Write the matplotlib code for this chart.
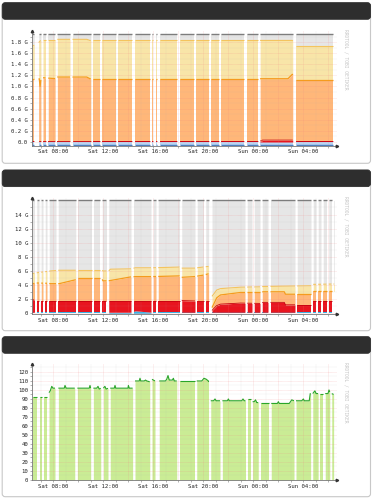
import numpy as np
import matplotlib
matplotlib.use("Agg")
import matplotlib.pyplot as plt
from matplotlib.patches import FancyBboxPatch

W, H = 375, 500
T0, T1 = 6.32, 30.72          # visible time window, hours since Sat 00:00

X_MAJOR = [8, 10, 12, 14, 16, 18, 20, 22, 24, 26, 28, 30]
X_LABELS = ["Sat 08:00", "", "Sat 12:00", "", "Sat 16:00", "", "Sat 20:00", "",
            "Sun 00:00", "", "Sun 04:00", ""]

# ---------------- Panel 1 (stacked, ~2 G) ----------------
P1_TIME   = [6.32, 6.90, 6.97, 7.05, 8.30, 8.36, 10.70, 10.95, 24.70, 24.75, 26.80, 27.15, 27.42, 30.38]
P1_NEG    = [-0.062] * 14
P1_RED    = [0.02, 0.02, 0.02, 0.02, 0.02, 0.02, 0.02, 0.02, 0.02, 0.035, 0.035, 0.035, 0.02, 0.02]
P1_ORANGE = [1.14, 1.14, 1.00, 1.16, 1.14, 1.17, 1.17, 1.14, 1.14, 1.14, 1.14, 1.22, 1.12, 1.12]
P1_YELLOW = [1.72, 1.80, 1.82, 1.83, 1.83, 1.85, 1.85, 1.83, 1.83, 1.83, 1.83, 1.83, 1.73, 1.73]
P1_GRAY   = [1.95] * 14
P1_GAPS = [(6.50, 6.85), (7.03, 7.20), (7.40, 7.62), (8.17, 8.35), (9.36, 9.56), (11.02, 11.22),
           (11.75, 11.95), (13.00, 13.20), (14.32, 14.52), (15.72, 15.90), (16.02, 16.20),
           (16.34, 16.52), (17.92, 18.12), (19.26, 19.46), (20.46, 20.66), (21.26, 21.46),
           (23.30, 23.50), (24.37, 24.57), (27.18, 27.44)]
Y1_TICKS = [0.0, 0.2, 0.4, 0.6, 0.8, 1.0, 1.2, 1.4, 1.6, 1.8]
Y1_LABELS = ["0.0", "0.2 G", "0.4 G", "0.6 G", "0.8 G", "1.0 G", "1.2 G", "1.4 G", "1.6 G", "1.8 G"]

# ---------------- Panel 2 (stacked, ~16 G) ----------------
P2_TIME   = [6.32, 6.55, 7.60, 7.80, 8.50, 9.80, 10.00, 11.90, 12.00, 12.45, 12.60, 14.20, 14.60,
             15.90, 18.10, 18.30, 19.30, 20.00, 20.45, 20.72, 21.10, 21.40, 23.00, 24.60, 24.80,
             26.50, 26.60, 28.65, 28.80, 30.50]
P2_BLUE   = [0.15, 0.15, 0.15, 0.15, 0.15, 0.15, 0.15, 0.15, 0.15, 0.15, 0.15, 0.15, 0.35,
             0.15, 0.15, 0.15, 0.15, 0.15, 0.15, 0.15, 0.15, 0.15, 0.15, 0.15, 0.15,
             0.15, 0.15, 0.15, 0.15, 0.15]
P2_RED    = [2.00, 1.80, 1.80, 1.80, 1.80, 1.80, 1.80, 1.80, 1.80, 1.80, 1.80, 1.80, 1.80,
             1.80, 1.80, 1.80, 1.75, 1.75, 1.75, 0.40, 1.10, 1.30, 1.45, 1.40, 1.55,
             1.55, 1.20, 1.20, 1.75, 1.75]
P2_ORANGE = [4.30, 4.30, 4.25, 4.20, 4.20, 4.75, 4.95, 4.95, 4.60, 4.60, 4.65, 5.15, 5.20,
             5.20, 5.30, 5.10, 5.20, 5.40, 5.60, 0.80, 2.20, 2.60, 2.95, 2.95, 3.05,
             3.05, 2.70, 2.70, 3.10, 3.10]
P2_YELLOW = [5.60, 5.70, 5.95, 6.00, 6.10, 6.10, 6.15, 6.15, 6.00, 6.00, 6.25, 6.30, 6.45,
             6.45, 6.55, 6.40, 6.40, 6.55, 6.65, 2.40, 3.30, 3.50, 3.70, 3.75, 3.80,
             3.85, 3.85, 3.90, 4.10, 4.15]
P2_GRAY   = [16.0] * 30
P2_GAPS = [(6.52, 6.70), (6.88, 7.06), (7.20, 7.38), (7.52, 7.70), (8.24, 8.42), (9.82, 10.02),
           (11.12, 11.30), (11.76, 11.94), (12.28, 12.46), (14.24, 14.44), (15.84, 16.02),
           (16.24, 16.42), (18.12, 18.30), (19.36, 19.54), (20.04, 20.22), (20.45, 20.72),
           (23.36, 23.54), (23.92, 24.10), (24.56, 24.74), (25.20, 25.40), (27.36, 27.54),
           (28.64, 28.82), (29.04, 29.22), (29.44, 29.62), (29.88, 30.06), (30.28, 30.44)]
Y2_TICKS = [0, 2, 4, 6, 8, 10, 12, 14]
Y2_LABELS = ["0", "2 G", "4 G", "6 G", "8 G", "10 G", "12 G", "14 G"]

# ---------------- Panel 3 (single line, ~100) ----------------
P3_TIME = [6.38, 7.50, 7.68, 7.78, 7.90, 8.00, 8.16, 8.43, 8.90, 8.96, 9.05, 9.76, 9.95, 10.90,
           10.96, 11.01, 11.23, 11.50, 11.60, 11.70, 11.84, 12.03, 12.15, 12.25, 12.43, 12.56,
           12.90, 12.96, 13.02, 14.00, 14.03, 14.10, 14.37, 14.56, 14.90, 14.96, 15.02, 15.30,
           15.40, 15.50, 15.76, 15.90, 16.16, 16.50, 17.00, 17.10, 17.20, 17.30, 17.55, 17.63,
           17.70, 17.90, 18.16, 19.36, 19.49, 19.90, 20.08, 20.25, 20.43, 20.61, 20.85, 20.96,
           21.05, 21.36, 21.55, 21.95, 22.03, 22.10, 23.10, 23.20, 23.30, 23.41, 23.57, 23.81,
           23.95, 24.10, 24.20, 24.30, 24.43, 24.59, 25.31, 25.44, 25.95, 26.03, 26.10, 26.90,
           27.10, 27.28, 27.44, 27.90, 28.03, 28.10, 28.50, 28.58, 28.61, 28.78, 28.95, 29.05,
           29.23, 29.36, 29.63, 29.76, 30.00, 30.08, 30.16, 30.29, 30.45]
P3_VALUE = [92, 92, 97, 99, 104, 102, 102, 102, 102, 105, 102, 102, 102, 102,
            105, 102, 102, 102, 104, 101, 102, 102, 104, 101, 102, 102,
            102, 105, 102, 102, 105, 102, 102, 110, 110, 113, 110, 110,
            111, 110, 109, 112, 110, 110, 110, 112, 116, 111, 111, 113,
            110, 110, 110, 110, 110, 110, 113, 112, 110, 88, 88, 90,
            88, 88, 88, 88, 90, 88, 88, 90, 88, 88, 90, 90,
            87, 87, 89, 86, 86, 85, 85, 85, 85, 87, 85, 85,
            89, 88, 88, 88, 90, 88, 88, 96, 96, 96, 99, 96,
            96, 96, 96, 96, 96, 100, 97, 96, 95]
P3_GAPS = [(6.72, 6.92), (7.14, 7.30), (7.50, 7.68), (8.16, 8.43), (9.74, 9.95), (11.01, 11.23),
           (11.82, 12.03), (12.40, 12.58), (14.37, 14.56), (15.74, 15.92), (16.16, 16.50),
           (17.90, 18.16), (19.32, 19.50), (20.44, 20.62), (21.36, 21.55), (23.40, 23.58),
           (23.80, 23.97), (24.42, 24.60), (25.30, 25.46), (27.28, 27.44), (28.61, 28.78),
           (29.21, 29.38), (29.61, 29.78), (30.14, 30.30)]
Y3_TICKS = [0, 10, 20, 30, 40, 50, 60, 70, 80, 90, 100, 110, 120]
Y3_LABELS = [str(v) for v in Y3_TICKS]

# ---------------- colours ----------------
C_NEG, C_NEG_LINE = "#b9d5f3", "#4f7fc0"
C_BLUE = "#3cb4e6"
C_RED, C_RED_LINE = "#e8151f", "#c4000e"
C_ORANGE, C_ORANGE_LINE = "#ffb779", "#f59b1e"
C_YELLOW, C_YELLOW_LINE = "#f8e5a8", "#f4c45e"
C_GRAY, C_GRAY_LINE = "#e6e6e6", "#7d7d7d"
C_GREEN, C_GREEN_LINE = "#caec95", "#2aa52a"

MONO = "DejaVu Sans Mono"


def segments(t_start, t_end, gaps):
    out, cur = [], t_start
    for a, b in sorted(gaps):
        if a > cur:
            out.append((cur, min(a, t_end)))
        cur = max(cur, b)
    if cur < t_end:
        out.append((cur, t_end))
    return out


def draw_stack(ax, time, base, layers, gaps):
    time = np.asarray(time, float)
    for a, b in segments(time[0], time[-1], gaps):
        xs = np.array([a] + [t for t in time if a < t < b] + [b])
        prev = np.interp(xs, time, base)
        for tops, fc, lc, lw in layers:
            ys = np.interp(xs, time, tops)
            ax.fill_between(xs, prev, ys, color=fc, lw=0, zorder=2, antialiased=False)
            if lc:
                ax.plot(xs, ys, color=lc, lw=lw, zorder=3, solid_capstyle="butt")
            prev = ys


fig = plt.figure(figsize=(W / 100, H / 100), dpi=100)
fig.patch.set_facecolor("white")

# background layer in pixel coordinates for the cards
bg = fig.add_axes([0, 0, 1, 1])
bg.set_xlim(0, W)
bg.set_ylim(H, 0)
bg.axis("off")
CARDS = [(2.7, 163.3), (170.0, 330.7), (336.7, 496.7)]
for top, bot in CARDS:
    bg.add_patch(FancyBboxPatch((2.2, top), 368.3, bot - top,
                                boxstyle="round,pad=0,rounding_size=3",
                                fc="white", ec="#c8c8c8", lw=0.8))
    bg.add_patch(FancyBboxPatch((2.2, top), 368.3, 16.6,
                                boxstyle="round,pad=0,rounding_size=3",
                                fc="#2e2e2e", ec="#2e2e2e", lw=0.6))


def make_axes(top_px, bot_px):
    return fig.add_axes([32 / W, 1 - bot_px / H, 305 / W, (bot_px - top_px) / H])


def style_axes(ax, yticks, ylabels, yminor, ylim, top_px):
    ax.set_xlim(T0, T1)
    ax.set_ylim(*ylim)
    ax.set_facecolor("white")
    for s in ("top", "right"):
        ax.spines[s].set_visible(False)
    for s in ("left", "bottom"):
        ax.spines[s].set_color("#777777")
        ax.spines[s].set_linewidth(0.6)
        ax.spines[s].set_zorder(6)
    ax.set_xticks(X_MAJOR)
    ax.set_xticklabels(X_LABELS, fontsize=4.1, family=MONO, color="#222222")
    ax.set_xticks(np.arange(7, 31, 1), minor=True)
    ax.set_yticks(yticks)
    ax.set_yticklabels(ylabels, fontsize=4.1, family=MONO, color="#222222")
    ax.set_yticks(yminor, minor=True)
    ax.tick_params(axis="both", which="both", length=1.2, width=0.4, color="#777777", pad=1.5)
    ax.grid(True, which="major", color="#f08080", alpha=0.45, lw=0.4, ls=(0, (1, 1)), zorder=4)
    ax.grid(True, which="minor", color="#b0b0b0", alpha=0.35, lw=0.35, ls=(0, (1, 1)), zorder=4)
    ax.set_axisbelow(False)
    ax.plot(1.0, 0.0, marker=">", color="#333333", ms=1.8, transform=ax.transAxes,
            clip_on=False, zorder=7)
    ax.plot(0.0, 1.0, marker="^", color="#333333", ms=1.8, transform=ax.transAxes,
            clip_on=False, zorder=7)
    fig.text(345.5 / W, 1 - (top_px - 2) / H, "RRDTOOL / TOBI OETIKER", rotation=270,
             fontsize=3.3, family=MONO, color="#c4c4c4", ha="center", va="top")


# Panel 1
ax1 = make_axes(31.0, 145.7)
draw_stack(ax1, P1_TIME, P1_NEG, [([0.0] * len(P1_TIME), C_NEG, None, 0)], P1_GAPS)
draw_stack(ax1, P1_TIME, P1_NEG, [(P1_NEG, C_NEG, C_NEG_LINE, 1.0)], P1_GAPS)
draw_stack(ax1, P1_TIME, [0.0] * len(P1_TIME),
           [(P1_RED, C_RED, C_RED_LINE, 0.5),
            (P1_ORANGE, C_ORANGE, C_ORANGE_LINE, 0.9),
            (P1_YELLOW, C_YELLOW, C_YELLOW_LINE, 0.8),
            (P1_GRAY, C_GRAY, C_GRAY_LINE, 1.0)], P1_GAPS)
style_axes(ax1, Y1_TICKS, Y1_LABELS, np.arange(0.1, 1.95, 0.2), (-0.067, 2.0), 31.0)

# Panel 2
ax2 = make_axes(198.3, 314.0)
draw_stack(ax2, P2_TIME, [0.0] * len(P2_TIME),
           [(P2_BLUE, C_BLUE, None, 0),
            (P2_RED, C_RED, C_RED_LINE, 0.6),
            (P2_ORANGE, C_ORANGE, C_ORANGE_LINE, 0.9),
            (P2_YELLOW, C_YELLOW, C_YELLOW_LINE, 0.8),
            (P2_GRAY, C_GRAY, C_GRAY_LINE, 1.0)], P2_GAPS)
style_axes(ax2, Y2_TICKS, Y2_LABELS, np.arange(1, 16, 2), (-0.1, 16.3), 198.3)

# Panel 3
ax3 = make_axes(364.3, 480.0)
draw_stack(ax3, P3_TIME, [0.0] * len(P3_TIME),
           [(P3_VALUE, C_GREEN, C_GREEN_LINE, 0.8)], P3_GAPS)
style_axes(ax3, Y3_TICKS, Y3_LABELS, np.arange(5, 126, 10), (0, 128.5), 364.3)

fig.savefig("out.png", dpi=100, facecolor="white")
